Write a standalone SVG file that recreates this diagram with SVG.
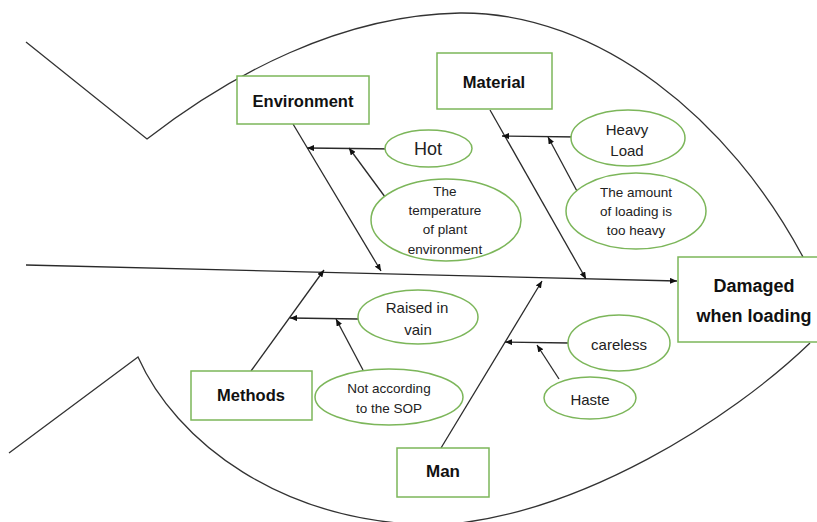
<svg xmlns="http://www.w3.org/2000/svg" width="817" height="522" viewBox="0 0 817 522">
<style>
.outline{fill:none;stroke:#333;stroke-width:1.3}
.box{fill:#fff;stroke:#7cb65a;stroke-width:1.5}
.ell{fill:#fff;stroke:#7cb65a;stroke-width:1.5}
.conn{fill:none;stroke:#2a2a2a;stroke-width:1.3}
.lbl{font-family:"Liberation Sans",Arial,sans-serif;font-weight:bold;fill:#111;text-anchor:middle}
.txt{font-family:"Liberation Sans",Arial,sans-serif;fill:#222;text-anchor:middle}
</style>
<defs>
<marker id="ah" markerWidth="8" markerHeight="6" refX="7" refY="3" orient="auto" markerUnits="userSpaceOnUse">
<path d="M0,0 L7,3 L0,6 Z" fill="#111"/>
</marker>
</defs>
<rect width="817" height="522" fill="#fff"/>
<g id="fish">
<path class="outline" d="M26,42 L147,139 C230,75 340,15 460,13 C600,12 730,120 803,257"/>
<path class="outline" d="M9,453 L138,357 C175,440 280,525 440,525 C580,515 730,420 810,343"/>
</g>
<g id="connectors">
<line class="conn" x1="26" y1="265" x2="677" y2="281" marker-end="url(#ah)"/>
<line class="conn" x1="293" y1="124" x2="381" y2="271" marker-end="url(#ah)"/>
<line class="conn" x1="396" y1="149" x2="307" y2="148" marker-end="url(#ah)"/>
<line class="conn" x1="388" y1="201" x2="349" y2="148" marker-end="url(#ah)"/>
<line class="conn" x1="490" y1="110" x2="586" y2="279" marker-end="url(#ah)"/>
<line class="conn" x1="578" y1="137" x2="502" y2="136" marker-end="url(#ah)"/>
<line class="conn" x1="578" y1="193" x2="548" y2="137" marker-end="url(#ah)"/>
<line class="conn" x1="251" y1="371" x2="324" y2="270" marker-end="url(#ah)"/>
<line class="conn" x1="358" y1="319" x2="290" y2="318" marker-end="url(#ah)"/>
<line class="conn" x1="363" y1="370" x2="336" y2="319" marker-end="url(#ah)"/>
<line class="conn" x1="441" y1="448" x2="542" y2="281" marker-end="url(#ah)"/>
<line class="conn" x1="569" y1="343" x2="505" y2="342" marker-end="url(#ah)"/>
<line class="conn" x1="559" y1="379" x2="537" y2="345" marker-end="url(#ah)"/>
</g>
<g id="effect">
<rect class="box" x="678" y="257" width="160" height="85"/>
<text class="lbl" x="754" y="292" font-size="18">Damaged</text>
<text class="lbl" x="754" y="322" font-size="18">when loading</text>
</g>
<g id="environment">
<rect class="box" x="237" y="76" width="132" height="48"/>
<text class="lbl" x="303" y="107" font-size="16.5">Environment</text>
</g>
<g id="material">
<rect class="box" x="437" y="53" width="115" height="56"/>
<text class="lbl" x="494" y="88" font-size="16.5">Material</text>
</g>
<g id="methods">
<rect class="box" x="191" y="371" width="121" height="49"/>
<text class="lbl" x="251" y="401" font-size="16.5">Methods</text>
</g>
<g id="man">
<rect class="box" x="397" y="448" width="92" height="49"/>
<text class="lbl" x="443" y="477" font-size="17">Man</text>
</g>
<g id="hot">
<ellipse class="ell" cx="428.5" cy="148.5" rx="43.5" ry="18.5"/>
<text class="txt" x="428" y="155" font-size="18">Hot</text>
</g>
<g id="temperature">
<ellipse class="ell" cx="446" cy="220" rx="75" ry="41"/>
<text class="txt" x="445" y="196" font-size="13.5">The</text>
<text class="txt" x="445" y="215" font-size="13.5">temperature</text>
<text class="txt" x="445" y="234" font-size="13.5">of plant</text>
<text class="txt" x="445" y="254" font-size="13.5">environment</text>
</g>
<g id="heavy-load">
<ellipse class="ell" cx="628" cy="138" rx="57" ry="28"/>
<text class="txt" x="627" y="135" font-size="15">Heavy</text>
<text class="txt" x="627" y="156" font-size="15">Load</text>
</g>
<g id="amount">
<ellipse class="ell" cx="636" cy="211" rx="70" ry="38"/>
<text class="txt" x="636" y="197" font-size="13.5">The amount</text>
<text class="txt" x="636" y="216" font-size="13.5">of loading is</text>
<text class="txt" x="636" y="235" font-size="13.5">too heavy</text>
</g>
<g id="raised">
<ellipse class="ell" cx="418" cy="317" rx="60" ry="27"/>
<text class="txt" x="417" y="313" font-size="15">Raised in</text>
<text class="txt" x="418" y="335" font-size="15">vain</text>
</g>
<g id="sop">
<ellipse class="ell" cx="389" cy="397" rx="74" ry="28"/>
<text class="txt" x="389" y="393" font-size="13.5">Not according</text>
<text class="txt" x="389" y="413" font-size="13.5">to the SOP</text>
</g>
<g id="careless">
<ellipse class="ell" cx="619" cy="343" rx="51" ry="28"/>
<text class="txt" x="619" y="350" font-size="15">careless</text>
</g>
<g id="haste">
<ellipse class="ell" cx="590" cy="398" rx="46" ry="21"/>
<text class="txt" x="590" y="405" font-size="15">Haste</text>
</g>
</svg>
